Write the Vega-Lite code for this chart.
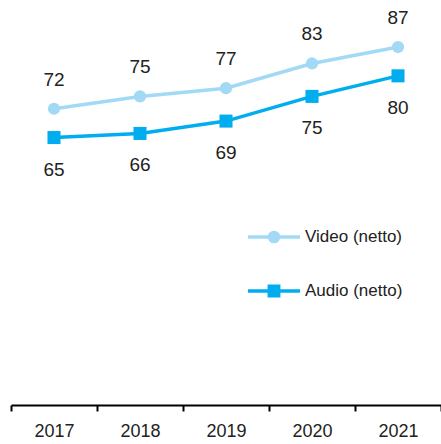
{
  "$schema": "https://vega.github.io/schema/vega-lite/v6.json",
  "width": 430,
  "height": 395,
  "autosize": {"type": "none"},
  "padding": {"left": 11, "top": 10, "right": 0, "bottom": 39},
  "background": "white",
  "config": {
    "font": "Liberation Sans",
    "view": {"stroke": null}
  },
  "data": {
    "values": [
      {"year": "2017", "series": "Video (netto)", "value": 72},
      {"year": "2018", "series": "Video (netto)", "value": 75},
      {"year": "2019", "series": "Video (netto)", "value": 77},
      {"year": "2020", "series": "Video (netto)", "value": 83},
      {"year": "2021", "series": "Video (netto)", "value": 87},
      {"year": "2017", "series": "Audio (netto)", "value": 65},
      {"year": "2018", "series": "Audio (netto)", "value": 66},
      {"year": "2019", "series": "Audio (netto)", "value": 69},
      {"year": "2020", "series": "Audio (netto)", "value": 75},
      {"year": "2021", "series": "Audio (netto)", "value": 80}
    ]
  },
  "encoding": {
    "x": {
      "field": "year",
      "type": "ordinal",
      "scale": {"type": "band", "paddingInner": 0, "paddingOuter": 0},
      "axis": {
        "title": null,
        "labelAngle": 0,
        "tickBand": "extent",
        "domainColor": "#000000",
        "domainWidth": 2,
        "tickColor": "#000000",
        "tickWidth": 2,
        "tickSize": 6,
        "labelFontSize": 18,
        "labelColor": "#222222",
        "labelPadding": 11,
        "labelFont": "Liberation Sans"
      }
    },
    "y": {
      "field": "value",
      "type": "quantitative",
      "scale": {"domain": [0, 96], "nice": false, "zero": true},
      "axis": null
    }
  },
  "layer": [
    {
      "mark": {"type": "line", "strokeWidth": 3.5},
      "encoding": {
        "color": {
          "field": "series",
          "type": "nominal",
          "scale": {"domain": ["Video (netto)", "Audio (netto)"], "range": ["#a2daf6", "#00aeef"]},
          "legend": {
            "title": null,
            "orient": "none",
            "legendX": 235,
            "legendY": 199,
            "padding": 0,
            "symbolSize": 2704,
            "rowPadding": 14,
            "labelOffset": 3,
            "labelFontSize": 17,
            "labelColor": "#222222",
            "labelFont": "Liberation Sans",
            "labelLimit": 300,
            "encode": {
              "symbols": {
                "update": {
                  "shape": {"signal": "datum.value === 'Video (netto)' ? 'M-1,0H1M0.175,0A0.175,0.175,0,1,1,-0.175,0A0.175,0.175,0,1,1,0.175,0' : 'M-1,0H1M-0.18,-0.18H0.18V0.18H-0.18Z'"},
                  "stroke": {"signal": "scale('color', datum.value)"},
                  "fill": {"signal": "scale('color', datum.value)"},
                  "strokeWidth": {"value": 3.5},
                  "opacity": {"value": 1}
                }
              }
            }
          }
        }
      }
    },
    {
      "transform": [{"filter": "datum.series === 'Video (netto)'"}],
      "mark": {"type": "point", "shape": "circle", "filled": true, "opacity": 1, "size": 150},
      "encoding": {
        "color": {"field": "series", "type": "nominal", "legend": null}
      }
    },
    {
      "transform": [{"filter": "datum.series === 'Audio (netto)'"}],
      "mark": {"type": "point", "shape": "square", "filled": true, "opacity": 1, "size": 170},
      "encoding": {
        "color": {"field": "series", "type": "nominal", "legend": null}
      }
    },
    {
      "transform": [{"filter": "datum.series === 'Video (netto)'"}],
      "mark": {"type": "text", "dy": -29, "fontSize": 19, "color": "#222222", "baseline": "middle"},
      "encoding": {"text": {"field": "value", "type": "quantitative"}}
    },
    {
      "transform": [{"filter": "datum.series === 'Audio (netto)'"}],
      "mark": {"type": "text", "dy": 32, "fontSize": 19, "color": "#222222", "baseline": "middle"},
      "encoding": {"text": {"field": "value", "type": "quantitative"}}
    }
  ]
}
